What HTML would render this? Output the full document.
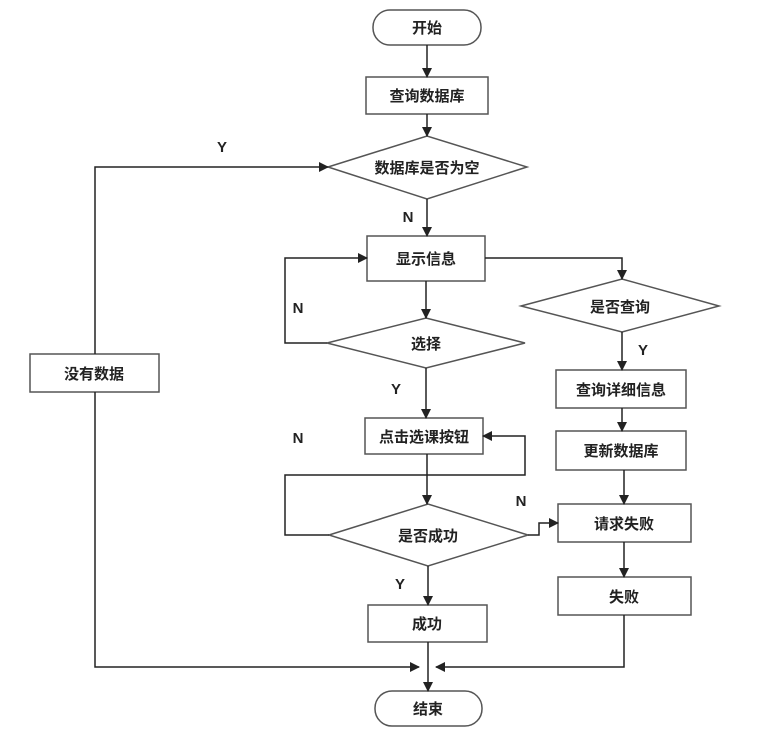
<!DOCTYPE html>
<html><head><meta charset="utf-8"><style>
html,body{margin:0;padding:0;background:#fff;}
svg text{font-family:"Liberation Sans","Noto Sans CJK SC",sans-serif;font-weight:bold;font-size:15px;fill:#222;}
</style></head><body>
<svg width="778" height="733" viewBox="0 0 778 733" xmlns="http://www.w3.org/2000/svg">
<defs><marker id="a" markerWidth="10" markerHeight="10" refX="9" refY="5" orient="auto" markerUnits="userSpaceOnUse"><path d="M0,0 L10,5 L0,10 z" fill="#222"/></marker></defs>
<g fill="#fff" stroke="#555" stroke-width="1.5">
<rect x="373" y="10" width="108" height="35" rx="17"/>
<rect x="366" y="77" width="122" height="37"/>
<polygon points="328,167 427,136 527,167 427,199"/>
<rect x="367" y="236" width="118" height="45"/>
<polygon points="327,343 426,318 525,343 426,368"/>
<rect x="365" y="418" width="118" height="36"/>
<polygon points="329,535 428,504 528,535 428,566"/>
<rect x="368" y="605" width="119" height="37"/>
<rect x="375" y="691" width="107" height="35" rx="17"/>
<rect x="30" y="354" width="129" height="38"/>
<polygon points="521,306 622,279 719,306 622,332"/>
<rect x="556" y="370" width="130" height="38"/>
<rect x="556" y="431" width="130" height="39"/>
<rect x="558" y="504" width="133" height="38"/>
<rect x="558" y="577" width="133" height="38"/>
</g>
<g fill="none" stroke="#222" stroke-width="1.5">
<line x1="427" y1="45" x2="427" y2="77" marker-end="url(#a)"/>
<line x1="427" y1="114" x2="427" y2="136" marker-end="url(#a)"/>
<line x1="427" y1="199" x2="427" y2="236" marker-end="url(#a)"/>
<line x1="426" y1="281" x2="426" y2="318" marker-end="url(#a)"/>
<polyline points="327,343 285,343 285,258 367,258" marker-end="url(#a)"/>
<line x1="426" y1="368" x2="426" y2="418" marker-end="url(#a)"/>
<line x1="427" y1="454" x2="427" y2="504" marker-end="url(#a)"/>
<polyline points="329,535 285,535 285,475 525,475 525,436 483,436" marker-end="url(#a)"/>
<line x1="428" y1="566" x2="428" y2="605" marker-end="url(#a)"/>
<line x1="428" y1="642" x2="428" y2="691" marker-end="url(#a)"/>
<polyline points="528,535 539,535 539,523 558,523" marker-end="url(#a)"/>
<polyline points="95,354 95,167 328,167" marker-end="url(#a)"/>
<polyline points="95,392 95,667 419,667" marker-end="url(#a)"/>
<polyline points="485,258 622,258 622,279" marker-end="url(#a)"/>
<line x1="622" y1="332" x2="622" y2="370" marker-end="url(#a)"/>
<line x1="622" y1="408" x2="622" y2="431" marker-end="url(#a)"/>
<line x1="624" y1="470" x2="624" y2="504" marker-end="url(#a)"/>
<line x1="624" y1="542" x2="624" y2="577" marker-end="url(#a)"/>
<polyline points="624,615 624,667 436,667" marker-end="url(#a)"/>
</g>
<g text-anchor="middle">
<text x="427" y="33">开始</text>
<text x="427" y="101">查询数据库</text>
<text x="427" y="173">数据库是否为空</text>
<text x="426" y="264">显示信息</text>
<text x="426" y="349">选择</text>
<text x="424" y="442">点击选课按钮</text>
<text x="428" y="541">是否成功</text>
<text x="427" y="629">成功</text>
<text x="428" y="714">结束</text>
<text x="94" y="379">没有数据</text>
<text x="620" y="312">是否查询</text>
<text x="621" y="395">查询详细信息</text>
<text x="621" y="456">更新数据库</text>
<text x="624" y="529">请求失败</text>
<text x="624" y="602">失败</text>
<text x="222" y="152">Y</text>
<text x="408" y="222">N</text>
<text x="298" y="313">N</text>
<text x="396" y="394">Y</text>
<text x="298" y="443">N</text>
<text x="521" y="506">N</text>
<text x="400" y="589">Y</text>
<text x="643" y="355">Y</text>
</g>
</svg>
</body></html>
